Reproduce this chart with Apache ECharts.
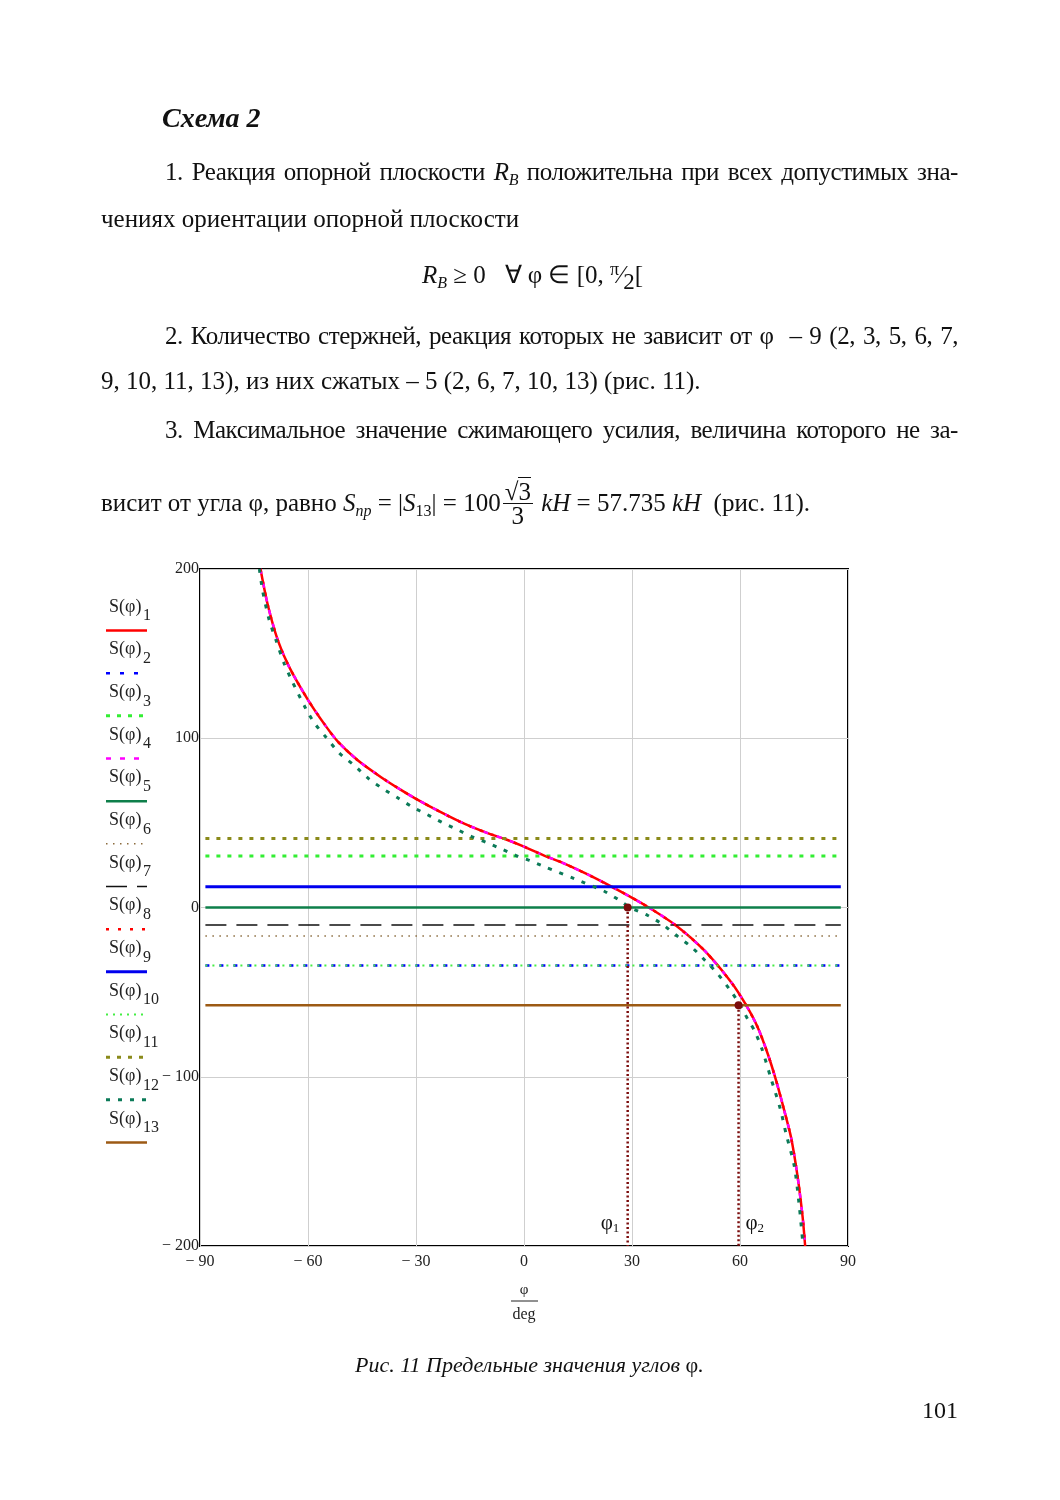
<!DOCTYPE html>
<html>
<head>
<meta charset="utf-8">
<script src="https://cdn.jsdelivr.net/npm/echarts@6/dist/echarts.min.js"></script>
<style>
  html, body { margin:0; padding:0; background:#fff; }
  #page { position:relative; width:1060px; height:1500px; overflow:hidden; background:#fff; }
  #chart { position:absolute; left:0; top:0; width:1060px; height:1500px; }
  .ln { position:absolute; white-space:nowrap; font-family:'Liberation Serif','Times New Roman',serif;
        font-size:25px; line-height:30px; height:30px; color:#111; z-index:2; }
  .just { text-align:justify; text-align-last:justify; white-space:normal; overflow:visible; letter-spacing:-0.45px; }
  .ln sub { font-size:16px; vertical-align:-5px; line-height:0; }
  .ln sup { font-size:18px; vertical-align:8px; line-height:0; }
  .frac { display:inline-block; vertical-align:-13px; text-align:center; line-height:23px; margin:0 2px; }
  .frac .num { display:block; border-bottom:1.5px solid #111; padding:0 2px; }
  .frac .den { display:block; }
</style>
</head>
<body>
<div id="page">
  <div id="chart"></div>

  <div class="ln" style="left:162px;top:103px;font-weight:bold;font-style:italic;font-size:28px;">Схема 2</div>

  <div class="ln just" style="left:165px;top:157px;width:793px;">1. Реакция опорной плоскости <i>R</i><sub><i>B</i></sub> положительна при всех допустимых зна-</div>
  <div class="ln" style="left:101px;top:204px;">чениях ориентации опорной плоскости</div>

  <div class="ln" style="left:422px;top:260px;"><i>R</i><sub><i>B</i></sub> ≥ 0 &nbsp;&nbsp;∀ φ ∈ [0, <sup>π</sup>⁄<sub style="font-size:23px;vertical-align:-6px;">2</sub>[</div>

  <div class="ln just" style="left:165px;top:321px;width:793px;">2. Количество стержней, реакция которых не зависит от φ &nbsp;– 9 (2, 3, 5, 6, 7,</div>
  <div class="ln" style="left:101px;top:366px;">9, 10, 11, 13), из них сжатых – 5 (2, 6, 7, 10, 13) (рис. 11).</div>

  <div class="ln just" style="left:165px;top:415px;width:793px;">3. Максимальное значение сжимающего усилия, величина которого не за-</div>
  <div class="ln" style="left:101px;top:480px;">висит от угла φ, равно <i>S</i><sub><i>пр</i></sub> = |<i>S</i><sub>13</sub>| = 100<span class="frac"><span class="num">√<span style="border-top:1.5px solid #111;">3</span></span><span class="den">3</span></span> <i>kH</i> = 57.735 <i>kH</i> &nbsp;(рис. 11).</div>

  <div class="ln" style="left:355px;top:1350px;font-style:italic;font-size:22px;">Рис. 11 Предельные значения углов <span style="font-style:normal;">φ</span>.</div>
  <div class="ln" style="left:922px;top:1395px;font-size:24px;">101</div>
</div>

<script>
// ---------- DATA ----------
// Curve S(φ)1 (S(φ)4 and S(φ)8 coincide with it)
const s1Phi = [-73.2,-71.2,-68.4,-65.2,-60.1,-55.5,-51.7,-46.2,-39.7,-34.2,-30,-23.1,-16.6,-10.1,-5.5,0,5.6,10.3,17.7,26,34.2,42.2,50.1,57.5,61.5,64.9,67.7,70,72.3,74.2,76,77.4,78.1];
const s1Val = [200,179,158,142,123,108.5,98,87,77,69.5,64.2,56.3,49.5,43.9,40.6,36,30.7,26.8,19.5,10.4,0.6,-10.6,-25.4,-44,-57,-70.7,-86.4,-102,-120,-136,-159,-183,-200];
const s4Phi = s1Phi, s4Val = s1Val;
const s8Phi = s1Phi, s8Val = s1Val;

// Curve S(φ)12
const s12Phi = [-73.5,-72.6,-70.8,-68.9,-66.6,-64.7,-60.6,-58.2,-55,-51.3,-47.1,-43.1,-39,-35.1,-30.9,-26.8,-22.9,-18.6,-14.5,-10.6,-6.4,-2.2,1.5,5.6,14,22.3,26.2,29.5,34.4,38.5,42.7,46.6,50.3,53.8,57,60,62.1,64,66,68.6,71.2,72.8,75.1,76.5,77.4,77.6];
const s12Val = [200,187,170,158,144,135,117.4,108.9,100.6,91.2,83.9,76,69.9,64.8,59.3,54.8,50.4,46.1,41.9,38.6,34.7,30.7,27.8,24.2,17,9.6,4.7,0,-4.7,-10,-17.1,-23.5,-31.3,-39.2,-48,-57.5,-65.8,-72.7,-83,-101,-119,-133.7,-153,-177,-197,-200];

// Constant reactions (independent of φ)
const levelIdx    = [2, 3, 5, 6, 7, 9, 10, 11, 13];
const levelValues = [-34.2, 30.4, 0, -16.8, -10.3, 12.2, -34.2, 40.8, -57.735];
const levelPhi    = [-88.5, 88];

// Limit angles φ1, φ2 and their levels
const limitPhi   = [28.8, 59.6];
const limitLevel = [0, -57.735];
const limitNames = ['1', '2'];

// Axis ranges
const xMin = -90, xMax = 90, xStep = 30;
const yMin = -200, yMax = 200, yStep = 100;

// ---------- STYLES ----------
const styleOf = {
  1:  {color:'#ff0000', width:2.5, type:'solid'},
  2:  {color:'#0000ff', width:2.5, type:[4,10]},
  3:  {color:'#33ee33', width:3,   type:[4,7]},
  4:  {color:'#ff00ff', width:2.5, type:[5,9]},
  5:  {color:'#0e7f4a', width:2.5, type:'solid'},
  6:  {color:'#8b6b3d', width:1.5, type:[1.5,5.5]},
  7:  {color:'#111111', width:1.5, type:[21,10]},
  8:  {color:'#ff0000', width:2.5, type:[3,9]},
  9:  {color:'#0000ee', width:3,   type:'solid'},
  10: {color:'#44ee44', width:2,   type:[2,5]},
  11: {color:'#8a8a1a', width:3,   type:[4,7]},
  12: {color:'#0b7a58', width:3,   type:[4,8]},
  13: {color:'#9c5a14', width:2.5, type:'solid'}
};
const FONT = "'Liberation Serif','Times New Roman',serif";

function pairs(xs, ys){ return xs.map((x,i)=>[x, ys[i]]); }
function lineSeries(i, data, smooth){
  const st = styleOf[i];
  return {
    name: 'S' + i, type:'line', data: data, showSymbol:false, symbol:'none',
    smooth: smooth ? 0.25 : false,
    lineStyle:{color:st.color, width:st.width, type:st.type},
    z: 2 + i*0.01, silent:true, animation:false
  };
}

const series = [];
for (let i = 1; i <= 13; i++) {
  if (i === 1) series.push(lineSeries(1, pairs(s1Phi, s1Val), true));
  else if (i === 4) series.push(lineSeries(4, pairs(s4Phi, s4Val), true));
  else if (i === 8) series.push(lineSeries(8, pairs(s8Phi, s8Val), true));
  else if (i === 12) series.push(lineSeries(12, pairs(s12Phi, s12Val), true));
  else {
    const k = levelIdx.indexOf(i);
    series.push(lineSeries(i, levelPhi.map(p => [p, levelValues[k]]), false));
  }
}
limitPhi.forEach((p, k) => {
  series.push({
    type:'line', animation:false, silent:true, z:4,
    data:[
      {value:[p, limitLevel[k]], symbol:'circle', symbolSize:8},
      {value:[p, yMin], symbol:'none'}
    ],
    itemStyle:{color:'#7b0c0c'},
    lineStyle:{color:'#7b0c0c', width:2.5, type:[2,2.5]}
  });
});

function fmt(v){ return v < 0 ? '\u2212 ' + Math.abs(v) : String(v); }

const chart = echarts.init(document.getElementById('chart'), null, {renderer:'canvas', width:1060, height:1500});
chart.setOption({
  animation:false,
  backgroundColor:'transparent',
  grid:{left:200, right:212, top:569, bottom:254, show:true, borderColor:'#000', borderWidth:2, containLabel:false},
  xAxis:{
    type:'value', min:xMin, max:xMax, interval:xStep,
    axisLine:{show:false}, axisTick:{show:false},
    splitLine:{show:true, lineStyle:{color:'#cfcfcf', width:1}},
    axisLabel:{formatter:fmt, fontFamily:FONT, fontSize:16, color:'#222', margin:8}
  },
  yAxis:{
    type:'value', min:yMin, max:yMax, interval:yStep,
    axisLine:{show:false}, axisTick:{show:false},
    splitLine:{show:true, lineStyle:{color:'#cfcfcf', width:1}},
    axisLabel:{formatter:fmt, fontFamily:FONT, fontSize:16, color:'#222', margin:1}
  },
  series: series
});

// ---------- legend (text above a line sample), axis name, φ labels ----------
const graphics = [];
const legTop = 607, legStep = 42.67;
for (let i = 1; i <= 13; i++) {
  const y = legTop + (i-1)*legStep;
  const st = styleOf[i];
  graphics.push({type:'text', style:{text:'S(φ)', x:109, y:y, font:'18px ' + FONT, fill:'#222', textVerticalAlign:'middle'}});
  graphics.push({type:'text', style:{text:String(i), x:143, y:y+9, font:'16px ' + FONT, fill:'#222', textVerticalAlign:'middle'}});
  graphics.push({type:'line', shape:{x1:106, y1:y+23.5, x2:147, y2:y+23.5},
    style:{stroke:st.color, lineWidth:st.width, lineDash: st.type === 'solid' ? null : st.type}});
}
// axis name φ / deg
graphics.push({type:'text', style:{text:'φ', x:524, y:1290, font:'15px ' + FONT, fill:'#222', textAlign:'center', textVerticalAlign:'middle'}});
graphics.push({type:'line', shape:{x1:511, y1:1301, x2:538, y2:1301}, style:{stroke:'#222', lineWidth:1}});
graphics.push({type:'text', style:{text:'deg', x:524, y:1315, font:'16px ' + FONT, fill:'#222', textAlign:'center', textVerticalAlign:'middle'}});
// φ1, φ2 labels near the bottom of the limit lines
limitPhi.forEach((p, k) => {
  const px = chart.convertToPixel({gridIndex:0}, [p, yMin]);
  const left = k === 0;
  const bx = left ? px[0] - 27 : px[0] + 7;
  graphics.push({type:'text', style:{text:'φ', x:bx, y:px[1]-23, font:'21px ' + FONT, fill:'#111', textVerticalAlign:'middle'}});
  graphics.push({type:'text', style:{text:limitNames[k], x:bx+12, y:px[1]-17, font:'13px ' + FONT, fill:'#111', textVerticalAlign:'middle'}});
});
chart.setOption({graphic:graphics});
</script>
</body>
</html>
